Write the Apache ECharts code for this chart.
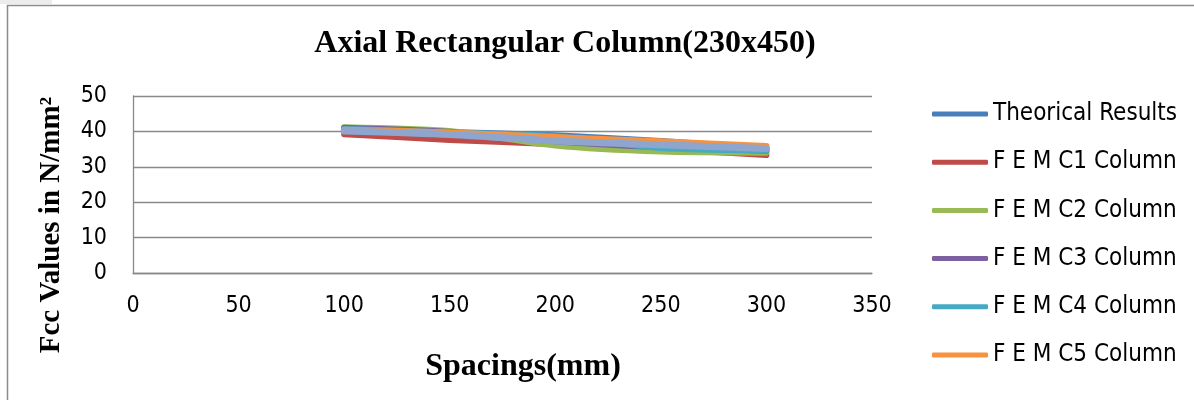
<!DOCTYPE html>
<html>
<head>
<meta charset="utf-8">
<script src="https://cdn.jsdelivr.net/npm/echarts@6/dist/echarts.min.js"></script>
<style>
html,body{margin:0;padding:0;background:#fff;}
#chart{width:1194px;height:400px;}
</style>
</head>
<body>
<div id="chart"></div>
<script>
// Data
var spacings = [100, 150, 200, 250, 300];
var theorical = [40.6, 39.8, 38.9, 37.3, 35.2];
var femC1 = [39.2, 37.6, 36.4, 35.0, 33.3];
var femC2 = [41.2, 40.1, 36.0, 34.3, 34.0];
var femC3 = [41.0, 39.8, 37.2, 35.5, 34.5];
var femC4 = [40.7, 39.7, 38.6, 35.3, 34.6];
var femC5 = [40.5, 39.7, 38.4, 37.2, 35.9];
var extraSeries = [40.1, 39.1, 37.3, 36.2, 35.2];
var seriesNames = ['Theorical Results', 'F E M C1 Column', 'F E M C2 Column', 'F E M C3 Column', 'F E M C4 Column', 'F E M C5 Column', 'Series7'];
var xTicks = [0, 50, 100, 150, 200, 250, 300, 350];
var yTicks = [0, 10, 20, 30, 40, 50];

var colors = ['#4A7EBB', '#BE4B48', '#98B954', '#7D60A0', '#46AAC5', '#F69240', '#8EA5CE'];
var allValues = [theorical, femC1, femC2, femC3, femC4, femC5, extraSeries];

function pairs(vals) {
  return spacings.map(function (x, i) { return [x, vals[i]]; });
}

var narrow = "'Liberation Sans Narrow', 'DejaVu Sans Condensed', 'Roboto Condensed', sans-serif";
var serif = "'Liberation Serif', 'DejaVu Serif', serif";

var series = allValues.map(function (vals, i) {
  return {
    name: seriesNames[i],
    type: 'line',
    data: pairs(vals),
    smooth: 0.25,
    symbol: 'none',
    z: 2 + i,
    lineStyle: { color: colors[i], width: i === 6 ? 7 : 6, cap: 'round', join: 'round' },
    itemStyle: { color: colors[i] }
  };
});

var chart = echarts.init(document.getElementById('chart'), null, { renderer: 'canvas' });
chart.setOption({
  animation: false,
  backgroundColor: '#fff',
  grid: { left: 133, top: 96, width: 739, height: 177, containLabel: false },
  xAxis: {
    type: 'value',
    min: xTicks[0], max: xTicks[xTicks.length - 1], interval: 50,
    axisLine: { show: true, lineStyle: { color: '#898989', width: 1.3 } },
    axisTick: { show: false },
    splitLine: { show: false },
    axisLabel: { color: '#000', fontSize: 23, fontFamily: narrow, margin: 22 }
  },
  yAxis: {
    type: 'value',
    min: yTicks[0], max: yTicks[yTicks.length - 1], interval: 10,
    axisLine: { show: true, lineStyle: { color: '#898989', width: 1.3 } },
    axisTick: { show: false },
    splitLine: { show: true, lineStyle: { color: '#898989', width: 1.3 } },
    axisLabel: { color: '#000', fontSize: 23, fontFamily: narrow, margin: 26 }
  },
  legend: {
    orient: 'vertical',
    left: 927, top: 94,
    itemWidth: 56, itemHeight: 5, itemGap: 18.2,
    icon: 'roundRect',
    data: seriesNames.slice(0, 6),
    textStyle: { color: '#000', fontSize: 24, fontFamily: narrow, lineHeight: 30 }
  },
  graphic: [
    { type: 'rect', shape: { x: 0, y: 0, width: 52, height: 4 }, style: { fill: '#ececec' }, silent: true },
    { type: 'rect', shape: { x: 7.5, y: 5.5, width: 1200, height: 410 }, style: { fill: 'none', stroke: '#8c8c8c', lineWidth: 1.5 }, silent: true, z: 0 },
    { type: 'text', x: 565, y: 44, style: { text: 'Axial Rectangular Column(230x450)', font: 'bold 32px ' + serif, fill: '#000', align: 'center', verticalAlign: 'middle' } },
    { type: 'text', x: 523, y: 367, style: { text: 'Spacings(mm)', font: 'bold 32px ' + serif, fill: '#000', align: 'center', verticalAlign: 'middle' } },
    { type: 'text', x: 52, y: 225, rotation: Math.PI / 2, style: { text: 'Fcc Values in N/mm²', font: 'bold 29px ' + serif, fill: '#000', align: 'center', verticalAlign: 'middle' } }
  ],
  series: series
});
</script>
</body>
</html>
